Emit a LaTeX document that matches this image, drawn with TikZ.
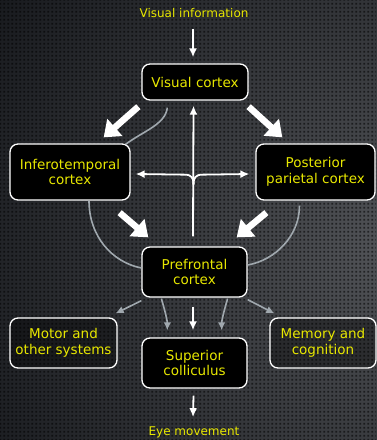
\documentclass[tikz,border=0pt]{standalone}
\usepackage{fontspec}
\setmainfont{DejaVu Sans}
\usetikzlibrary{arrows.meta,calc,patterns.meta}
\definecolor{ylw}{HTML}{E8E800}
\definecolor{gline}{HTML}{A0A8AE}
\tikzdeclarepattern{name=carbon,type=uncolored,bounding box={(0,0) and (4pt,4pt)},tile size={(4pt,4pt)},code={\fill (0.6pt,0.6pt) rectangle (2.8pt,2.8pt);}}
\tikzset{
  box/.style={draw=white,line width=1.3pt,rounded corners=8pt,fill=black,text=ylw,align=center,font=\fontsize{13.5}{15.5}\selectfont,inner sep=0pt},
  softbox/.style={box,fill=black,fill opacity=0.35,text opacity=1},
  lbl/.style={text=ylw,font=\fontsize{12}{14}\selectfont,inner sep=0pt},
  fat/.style={white,line width=6.5pt,-{Triangle[width=22pt,length=15pt]}},
  thin/.style={white,line width=1.8pt,-{Latex[length=9pt,width=8pt]}},
  grey/.style={gline,line width=1.6pt},
  greyarrow/.style={grey,-{Latex[length=8pt,width=7.5pt]}},
}
\begin{document}
\begin{tikzpicture}[x=1pt,y=-1pt]
\useasboundingbox (0,0) rectangle (376,440);
\shade[inner color={rgb,255:red,80;green,82;blue,86},outer color={rgb,255:red,6;green,8;blue,12}] (-230,-360) rectangle (990,860);
\fill[pattern=carbon,pattern color=black,opacity=0.55] (0,0) rectangle (376,440);

\node[lbl] (vi) at (194,13) {Visual information};
\node[box,minimum width=106pt,minimum height=36pt] (vc) at (195,82) {Visual cortex};
\node[box,minimum width=120pt,minimum height=56pt] (it) at (70,172) {Inferotemporal\\cortex};
\node[box,minimum width=119pt,minimum height=56pt] (pp) at (315.5,172) {Posterior\\parietal cortex};
\node[box,minimum width=105pt,minimum height=50pt] (pf) at (194.5,272) {Prefrontal\\cortex};
\node[softbox,minimum width=107pt,minimum height=50pt] (mo) at (63.5,343) {Motor and\\other systems};
\node[box,minimum width=105pt,minimum height=50pt] (sc) at (194.5,363) {Superior\\colliculus};
\node[softbox,minimum width=106pt,minimum height=50pt] (me) at (323,343) {Memory and\\cognition};
\node[lbl] (em) at (194,432) {Eye movement};

% top and bottom arrows
\draw[thin] ($(vi.south)+(-1,11)$) -- ($(vc.north)+(-2,-6)$);
\draw[thin] ($(sc.south)+(-1,7)$) -- ($(em.north)+(-1,-9)$);

% thick arrows
\draw[fat] ($(vc.south west)+(-3,6)$) -- ($(it.north east)+(-27,-6)$);
\draw[fat] ($(vc.south east)+(0,6)$) -- ($(pp.north west)+(27,-6)$);
\draw[fat] ($(it.south east)+(-11,12)$) -- ($(pf.north west)+(7,-9)$);
\draw[fat] ($(pp.south west)+(11,12)$) -- ($(pf.north east)+(-11,-9)$);

% grey connections
\draw[grey] ($(vc.south west)+(26,7)$) .. controls ($(vc.south west)+(24,24)$) and ($(it.north east)+(12,-12)$) .. ($(it.north east)+(-5,1)$);
\draw[grey] ($(it.south)+(19,0)$) .. controls ($(it.south)+(19,35)$) and ($(pf.west)+(-30,-10)$) .. ($(pf.west)+(0,-4)$);
\draw[grey] ($(pp.south)+(-16,5)$) .. controls ($(pp.south)+(-16,35)$) and ($(pf.east)+(28,-12)$) .. ($(pf.east)+(0,-7)$);

% thin white feedback arrow with branches
\coordinate (fb) at ($(pf.north)+(-1.5,-10)$);
\coordinate (br) at ($(vc.south)+(-1.5,84)$);
\draw[thin] (fb) -- ($(vc.south)+(-1.5,5)$);
\draw[thin] (br) .. controls ($(br)+(0,-7)$) and ($(br)+(-2,-10)$) .. ($(br)+(-9,-10)$) -- ($(it.east)+(5,2)$);
\draw[thin] (br) .. controls ($(br)+(0,-7)$) and ($(br)+(2,-10)$) .. ($(br)+(9,-10)$) -- ($(pp.west)+(-6,2)$);

% outputs of prefrontal
\draw[greyarrow] ($(pf.south west)+(0,3)$) -- ($(mo.north east)+(-2,-4)$);
\draw[greyarrow] ($(pf.south east)+(0,2)$) -- ($(me.north west)+(5,-4)$);
\draw[greyarrow] ($(pf.south west)+(20,1)$) .. controls ($(pf.south west)+(24,14)$) and ($(sc.north west)+(26,-16)$) .. ($(sc.north west)+(26,-7)$);
\draw[greyarrow] ($(pf.south east)+(-20,1)$) .. controls ($(pf.south east)+(-24,14)$) and ($(sc.north east)+(-26,-16)$) .. ($(sc.north east)+(-26,-7)$);
\draw[thin] ($(pf.south)+(-1.5,9)$) -- ($(sc.north)+(-1.5,-7)$);
\end{tikzpicture}
\end{document}
